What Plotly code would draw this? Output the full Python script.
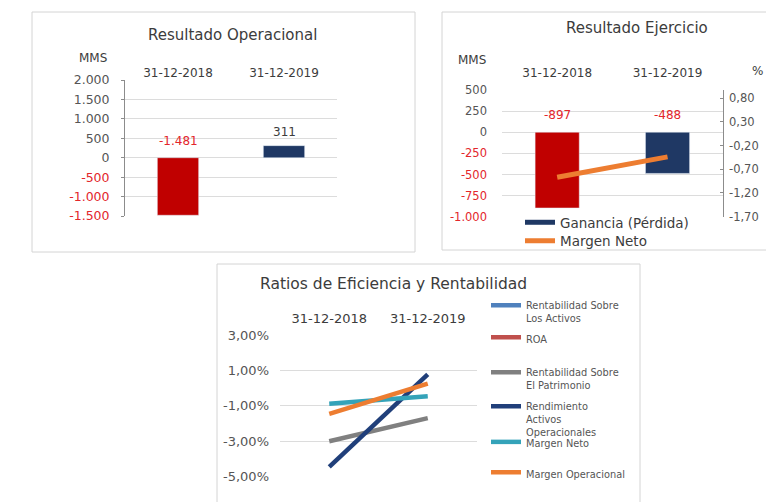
import plotly.graph_objects as go

# ---------------- data ----------------
categories = ["31-12-2018", "31-12-2019"]

res_operacional = [-1481, 311]          # MM$
res_ejercicio = [-897, -488]            # MM$
margen_neto_pct = [-0.87, -0.44]        # %

ratio_names = [
    "Rentabilidad Sobre<br>Los Activos",
    "ROA",
    "Rentabilidad Sobre<br>El Patrimonio",
    "Rendimiento<br>Activos<br>Operacionales",
    "Margen Neto",
    "Margen Operacional",
]
ratio_rsa = [None, None]
ratio_roa = [None, None]
ratio_rsp = [-3.00, -1.69]
ratio_rao = [-4.45, 0.78]
ratio_mn = [-0.88, -0.46]
ratio_mo = [-1.45, 0.25]
ratio_values = [ratio_rsa, ratio_roa, ratio_rsp, ratio_rao, ratio_mn, ratio_mo]

p1_ticks = [-1500, -1000, -500, 0, 500, 1000, 1500, 2000]
p2_ticks = [-1000, -750, -500, -250, 0, 250, 500]
p2_pct_ticks = [-1.70, -1.20, -0.70, -0.20, 0.30, 0.80]
p3_ticks = [-5, -3, -1, 1, 3]

# ---------------- style ----------------
W, H = 766, 502
RED_BAR = "#C00000"
NAVY = "#1F3864"
RED_TXT = "#E3262B"
DARK = "#3C3C3C"
GREY_TXT = "#555555"
GRID = "#DCDCDC"
AXIS = "#8C8C8C"
FONT = "DejaVu Sans"
ratio_colors = ["#4F81BD", "#C0504D", "#808080", "#203F7A", "#34A3B9", "#ED7D31"]


def fx(p):
    return p / W


def fy(p):
    return 1 - p / H


def fmt_int(v):
    return f"{v:,}".replace(",", ".")


def fmt_dec(v):
    return f"{v:.2f}".replace(".", ",")


def fmt_pct(v):
    return f"{v:.2f}".replace(".", ",") + "%"


def colored(txt, v):
    col = RED_TXT if v < 0 else GREY_TXT
    return f'<span style="color:{col}">{txt}</span>'


fig = go.Figure()

# ---- panel 1: Resultado Operacional ----
fig.add_trace(go.Bar(x=categories, y=res_operacional, marker_color=[RED_BAR, NAVY],
                     width=0.39, xaxis="x", yaxis="y", showlegend=False, hoverinfo="x+y"))

# ---- panel 2: Resultado Ejercicio ----
fig.add_trace(go.Bar(x=categories, y=res_ejercicio, marker_color=[RED_BAR, NAVY],
                     width=0.4, xaxis="x2", yaxis="y2", showlegend=False, hoverinfo="x+y"))
fig.add_trace(go.Scatter(x=[None], y=[None], mode="lines", name="Ganancia (Pérdida)",
                         line=dict(color=NAVY, width=5), xaxis="x2", yaxis="y2",
                         legend="legend"))
fig.add_trace(go.Scatter(x=categories, y=margen_neto_pct, mode="lines", name="Margen Neto",
                         line=dict(color="#ED7D31", width=5), xaxis="x2", yaxis="y3",
                         legend="legend2"))

# ---- panel 3: Ratios ----
for i, (nm, vals, col) in enumerate(zip(ratio_names, ratio_values, ratio_colors)):
    fig.add_trace(go.Scatter(x=categories, y=vals, mode="lines", name=nm,
                             line=dict(color=col, width=4.5), xaxis="x3", yaxis="y4",
                             legend=f"legend{i + 3}"))

# ---------------- layout ----------------
shapes = [
    dict(type="rect", xref="paper", yref="paper", x0=fx(32), x1=fx(415), y0=fy(252), y1=fy(12),
         line=dict(color="#D4D4D4", width=1), layer="below"),
    dict(type="rect", xref="paper", yref="paper", x0=fx(442), x1=fx(790), y0=fy(250), y1=fy(12),
         line=dict(color="#D4D4D4", width=1), layer="below"),
    dict(type="rect", xref="paper", yref="paper", x0=fx(217), x1=fx(640), y0=fy(530), y1=fy(264),
         line=dict(color="#D4D4D4", width=1), layer="below"),
]


def cat_axis(domain, anchor, size, standoff):
    return dict(domain=domain, anchor=anchor, type="category", range=[-0.5, 1.5], side="top",
                showgrid=False, showline=False, ticks="", zeroline=False,
                tickfont=dict(family=FONT, size=size, color=DARK), ticklabelstandoff=standoff,
                fixedrange=True)


def val_axis(domain, anchor, rng, vals, texts, size, **kw):
    d = dict(domain=domain, anchor=anchor, range=rng, tickvals=vals, ticktext=texts,
             showgrid=True, gridcolor=GRID, gridwidth=1, zeroline=False,
             tickfont=dict(family=FONT, size=size, color=GREY_TXT), fixedrange=True)
    d.update(kw)
    return d


p1_ydom = [fy(216), fy(80)]
p2_ydom = [fy(216.7), fy(90)]
p3_ydom = [fy(476.7), fy(335)]

layout = dict(
    width=W, height=H, margin=dict(l=0, r=0, t=0, b=0, autoexpand=False),
    paper_bgcolor="white", plot_bgcolor="rgba(0,0,0,0)",
    font=dict(family=FONT, color=DARK),
    shapes=shapes,
    xaxis=cat_axis([fx(125), fx(337)], "y", 12, 0),
    yaxis=val_axis(p1_ydom, "x", [-1500, 2000], p1_ticks,
                   [colored(fmt_int(v), v) for v in p1_ticks], 12.5,
                   showline=True, linecolor=AXIS, ticks="outside", ticklen=3, tickcolor=AXIS,
                   ticklabelstandoff=9),
    xaxis2=cat_axis([fx(502), fx(722.7)], "y2", 12, 10),
    yaxis2=val_axis(p2_ydom, "x2", [-1000, 500], p2_ticks,
                    [colored(fmt_int(v), v) for v in p2_ticks], 11.5,
                    showline=False, ticks="", ticklabelstandoff=14),
    yaxis3=val_axis(p2_ydom, "x2", [-1.70, 0.97], p2_pct_ticks, [fmt_dec(v) for v in p2_pct_ticks],
                    11.5, overlaying="y2", side="right", showgrid=False, showline=True,
                    linecolor=AXIS, ticks="inside", ticklen=3, tickcolor=AXIS, ticklabelstandoff=3),
    xaxis3=cat_axis([fx(280), fx(477)], "y4", 13, 8),
    yaxis4=val_axis(p3_ydom, "x3", [-5, 3], p3_ticks, [fmt_pct(v) for v in p3_ticks], 13,
                    showline=False, ticks="", ticklabelstandoff=10),
)


def leg(xp, yp_top, size, color):
    return dict(x=fx(xp), y=fy(yp_top), xanchor="left", yanchor="top", xref="paper", yref="paper",
                bgcolor="rgba(0,0,0,0)", borderwidth=0, itemwidth=30, valign="top",
                font=dict(family=FONT, size=size, color=color), tracegroupgap=0,
                itemclick=False, itemdoubleclick=False)


layout["legend"] = leg(520, 207, 13.5, DARK)
layout["legend2"] = leg(520, 225.5, 13.5, DARK)
leg_tops = [292.5, 324.5, 359.5, 393.5, 429, 459.5]
for i, t in enumerate(leg_tops):
    layout[f"legend{i + 3}"] = leg(486, t, 9.8, GREY_TXT)

annotations = [
    dict(text="Resultado Operacional", x=fx(232), y=fy(35), xref="paper", yref="paper",
         showarrow=False, font=dict(family=FONT, size=15, color=DARK), xanchor="center", yanchor="middle"),
    dict(text="MMS", x=fx(93), y=fy(58), xref="paper", yref="paper", showarrow=False,
         font=dict(family=FONT, size=12, color=DARK), xanchor="center", yanchor="middle"),
    dict(text="Resultado Ejercicio", x=fx(637), y=fy(28), xref="paper", yref="paper",
         showarrow=False, font=dict(family=FONT, size=15, color=DARK), xanchor="center", yanchor="middle"),
    dict(text="MMS", x=fx(472), y=fy(60), xref="paper", yref="paper", showarrow=False,
         font=dict(family=FONT, size=12, color=DARK), xanchor="center", yanchor="middle"),
    dict(text="%", x=fx(757), y=fy(71), xref="paper", yref="paper", showarrow=False,
         font=dict(family=FONT, size=12, color=DARK), xanchor="center", yanchor="middle"),
    dict(text="Ratios de Eficiencia y Rentabilidad", x=fx(258), y=fy(284), xref="paper", yref="paper",
         showarrow=False, font=dict(family=FONT, size=15.5, color=DARK), xanchor="left", yanchor="middle"),
]

# data labels
for c, v in zip(categories, res_operacional):
    annotations.append(dict(text=fmt_int(v), x=c, y=max(v, 0), xref="x", yref="y", showarrow=False,
                            yanchor="bottom", yshift=8 if v < 0 else 5,
                            font=dict(family=FONT, size=12, color=RED_TXT if v < 0 else DARK)))
for c, v in zip(categories, res_ejercicio):
    annotations.append(dict(text=fmt_int(v), x=c, y=max(v, 0), xref="x2", yref="y2", showarrow=False,
                            yanchor="bottom", yshift=8,
                            font=dict(family=FONT, size=12, color=RED_TXT if v < 0 else DARK)))

layout["annotations"] = annotations
fig.update_layout(**layout)

fig.write_html("out.html")
